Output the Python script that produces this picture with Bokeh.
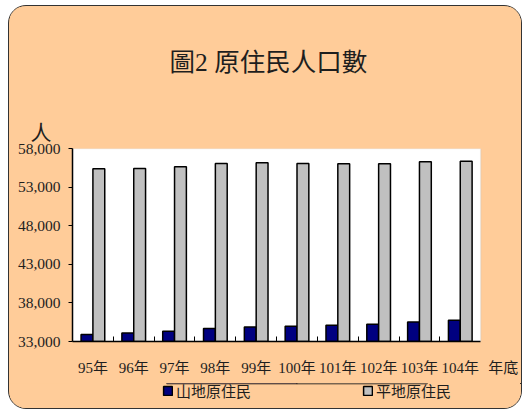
import numpy as np
from bokeh.plotting import figure
from bokeh.layouts import column
from bokeh.models import (Range1d, FixedTicker, NumeralTickFormatter, LinearAxis,
                          Legend, LegendItem, Title, BoxAnnotation)
from bokeh.embed import file_html
from bokeh.resources import INLINE

years = ["95年", "96年", "97年", "98年", "99年", "100年", "101年", "102年", "103年", "104年"]
mountain = [33900, 34110, 34330, 34680, 34890, 34980, 35110, 35240, 35530, 35750]
plains = [55370, 55410, 55630, 56060, 56150, 56060, 56020, 56020, 56280, 56360]
y_ticks = [33000, 38000, 43000, 48000, 53000, 58000]
title_text = "圖2 原住民人口數"
unit_text = "人"
x_title = "年底"
series_names = ["山地原住民", "平地原住民"]

FONT = "Liberation Serif, Noto Sans CJK TC"
TXT = "#1e1e1e"
BG = "#FFCC99"
NAVY = "#000080"
GREY = "#C0C0C0"

n = len(years)
idx = np.arange(n)
bw = 0.29
x_title_pos = n + 0.555  # axis-title label, right of the last category

p = figure(width=512, height=377, output_backend="svg", toolbar_location=None,
           x_range=Range1d(0, n + 1), y_range=Range1d(y_ticks[0], y_ticks[-1]),
           frame_width=449, frame_height=193,
           min_border_left=63, min_border_right=0, min_border_top=142, min_border_bottom=42)
p.border_fill_color = BG
p.background_fill_color = BG
p.outline_line_color = None
p.xgrid.visible = False
p.ygrid.visible = False

# white plot area with light grey border
p.add_layout(BoxAnnotation(left=0, right=n, bottom=y_ticks[0], top=y_ticks[-1],
                           fill_color="white", fill_alpha=1.0,
                           line_color="#c8c8c8", line_width=1.5, level="underlay"))

r1 = p.vbar(x=idx + 0.5 - bw / 2, width=bw, top=mountain, bottom=y_ticks[0],
            fill_color=NAVY, line_color="black", line_width=1.5)
r2 = p.vbar(x=idx + 0.5 + bw / 2, width=bw, top=plains, bottom=y_ticks[0],
            fill_color=GREY, line_color="black", line_width=1.5)

# axis line with category-boundary ticks
xa = p.xaxis[0]
xa.ticker = FixedTicker(ticks=[], minor_ticks=list(range(1, n)))
xa.bounds = (0, n)
xa.major_tick_in = 0
xa.major_tick_out = 0
xa.minor_tick_in = 5
xa.minor_tick_out = 0
xa.minor_tick_line_color = "black"
xa.axis_line_color = "black"
xa.axis_line_width = 1.5

# category labels plus the axis title on the right
label_pos = [float(i + 0.5) for i in idx] + [x_title_pos]
xb = LinearAxis(ticker=FixedTicker(ticks=label_pos, minor_ticks=[]))
xb.major_label_overrides = dict(zip(label_pos, years + [x_title]))
xb.axis_line_color = None
xb.major_tick_line_color = None
xb.minor_tick_line_color = None
xb.major_label_standoff = 12
xb.major_label_text_font = FONT
xb.major_label_text_font_size = "15px"
xb.major_label_text_color = TXT
p.add_layout(xb, "below")

ya = p.yaxis[0]
ya.ticker = FixedTicker(ticks=y_ticks)
ya.formatter = NumeralTickFormatter(format="0,0")
ya.major_tick_in = 0
ya.major_tick_out = 4
ya.minor_tick_line_color = None
ya.axis_line_color = "black"
ya.axis_line_width = 1.5
ya.major_label_standoff = 8
ya.major_label_text_font = FONT
ya.major_label_text_font_size = "15.5px"
ya.major_label_text_color = TXT

p.add_layout(Title(text=unit_text, align="left", offset=-42, standoff=8,
                   text_font=FONT, text_font_size="21px", text_color=TXT,
                   text_font_style="normal"), "above")
p.add_layout(Title(text=title_text, align="left", offset=97, standoff=76,
                   text_font=FONT, text_font_size="25.5px", text_color=TXT,
                   text_font_style="normal"), "above")

# legend strip (its renderers use the same data, out of this strip's view)
p2 = figure(width=512, height=25, output_backend="svg", toolbar_location=None,
            x_range=Range1d(0, 1), y_range=Range1d(0, 1), min_border=0)
p2.border_fill_color = BG
p2.background_fill_color = BG
p2.outline_line_color = None
p2.axis.visible = False
p2.grid.visible = False
l1 = p2.vbar(x=idx + 0.5 - bw / 2, width=bw, top=mountain, bottom=y_ticks[0],
             fill_color=NAVY, line_color="black", line_width=1.5)
l2 = p2.vbar(x=idx + 0.5 + bw / 2, width=bw, top=plains, bottom=y_ticks[0],
             fill_color=GREY, line_color="black", line_width=1.5)

legend = Legend(items=[LegendItem(label=series_names[0], renderers=[l1]),
                       LegendItem(label=series_names[1], renderers=[l2])],
                orientation="horizontal", location=(90, 7),
                glyph_width=11, glyph_height=11, label_standoff=3, spacing=111,
                padding=0, margin=0, border_line_color=None, background_fill_alpha=0,
                label_text_font=FONT, label_text_font_size="15px", label_text_color=TXT,
                label_height=15)
p2.add_layout(legend, "center")

layout = column(p, p2, spacing=0)
layout.styles = {"border": "1.5px solid #333", "border-radius": "18px", "overflow": "hidden",
                 "margin-left": "8px", "margin-top": "5px", "background-color": BG}

open("out.html", "w").write(file_html(layout, INLINE))
